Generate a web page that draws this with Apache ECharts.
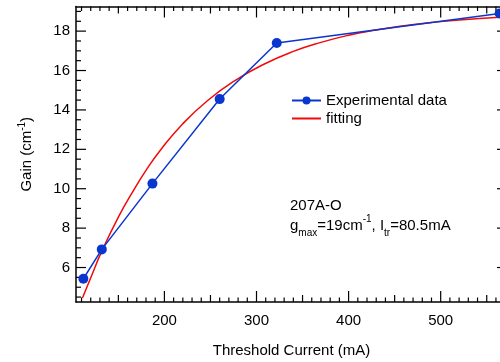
<!DOCTYPE html>
<html>
<head>
<meta charset="utf-8">
<script src="https://cdn.jsdelivr.net/npm/echarts@6/dist/echarts.min.js"></script>
<style>
  html, body { margin: 0; padding: 0; background: #fff; }
  #chart { width: 500px; height: 362px; }
</style>
</head>
<body>
<div id="chart"></div>
<script>
// measured data (threshold current mA, gain cm^-1)
const expCurrent = [112, 132, 187, 260, 322, 564];
const expGain = [5.43, 6.92, 10.26, 14.55, 17.4, 18.9];

// fitting curve
const fitCurrent = [111, 120, 132, 150, 165, 180, 196, 220, 247, 277, 308, 340, 370, 400, 430, 456, 490, 520, 572];
const fitGain = [4.45, 5.48, 6.83, 8.56, 9.8, 10.93, 11.98, 13.3, 14.48, 15.5, 16.32, 16.97, 17.43, 17.79, 18.06, 18.25, 18.44, 18.57, 18.73];

// ticks
const xMajor = [200, 300, 400, 500];
const xMid = [150, 250, 350, 450, 550];
const xMinor = [110, 120, 130, 140, 160, 170, 180, 190, 210, 220, 230, 240, 260, 270, 280, 290,
  310, 320, 330, 340, 360, 370, 380, 390, 410, 420, 430, 440, 460, 470, 480, 490, 510, 520, 530, 540, 560, 570];
const yMajor = [6, 8, 10, 12, 14, 16, 18];
const yMinor = [4.5, 5, 5.5, 6.5, 7, 7.5, 8.5, 9, 9.5, 10.5, 11, 11.5, 12.5, 13, 13.5, 14.5, 15, 15.5,
  16.5, 17, 17.5, 18.5, 19];

const xMin = 104, xMax = 572;
const yMin = 4.25, yMax = 19.25;

const font = 'Liberation Sans, Arial, sans-serif';
const blue = '#0a36d0';
const red = '#f00a0a';
const axisLine = { show: true, onZero: false, lineStyle: { color: '#000', width: 1.5 } };

// inward tick marks on both opposite sides, placed with the axis scales
function tickSeries(values, dim, len) {
  return {
    type: 'custom', silent: true, z: 1, clip: false,
    data: values.map(v => dim === 'x' ? [v, yMin] : [xMin, v]),
    renderItem: (params, api) => {
      let a, b, d;
      if (dim === 'x') {
        a = api.coord([api.value(0), yMin]);
        b = api.coord([api.value(0), yMax]);
        d = [0, -len, 0, len];
      } else {
        a = api.coord([xMin, api.value(1)]);
        b = api.coord([xMax, api.value(1)]);
        d = [len, 0, -len, 0];
      }
      const st = { stroke: '#000', lineWidth: 1.2 };
      return {
        type: 'group', children: [
          { type: 'line', shape: { x1: a[0], y1: a[1], x2: a[0] + d[0], y2: a[1] + d[1] }, style: st },
          { type: 'line', shape: { x1: b[0], y1: b[1], x2: b[0] + d[2], y2: b[1] + d[3] }, style: st }
        ]
      };
    }
  };
}

const chart = echarts.init(document.getElementById('chart'), null, { renderer: 'canvas' });
chart.setOption({
  animation: false,
  backgroundColor: '#fff',
  textStyle: { fontFamily: font },
  grid: { left: 76, right: -7, top: 6.5, bottom: 60, containLabel: false, outerBoundsMode: 'none' },
  xAxis: [
    {
      type: 'value', position: 'bottom', min: xMin, max: xMax,
      axisLine, axisTick: { show: false }, splitLine: { show: false },
      axisLabel: { customValues: xMajor, margin: 11, color: '#000', fontSize: 15, fontFamily: font },
      name: 'Threshold Current (mA)', nameLocation: 'middle', nameGap: 41,
      nameTextStyle: { color: '#000', fontSize: 15, fontFamily: font }
    },
    {
      type: 'value', position: 'top', min: xMin, max: xMax,
      axisLine, axisTick: { show: false }, splitLine: { show: false }, axisLabel: { show: false }
    }
  ],
  yAxis: [
    {
      type: 'value', position: 'left', min: yMin, max: yMax,
      axisLine, axisTick: { show: false }, splitLine: { show: false },
      axisLabel: { customValues: yMajor, margin: 6, color: '#000', fontSize: 15, fontFamily: font },
      name: '{a|Gain (cm}{s|-1}{a|)}', nameLocation: 'middle', nameGap: 39,
      nameTextStyle: {
        color: '#000', fontFamily: font,
        rich: {
          a: { fontSize: 15, fontFamily: font, color: '#000', lineHeight: 20 },
          s: { fontSize: 10, fontFamily: font, color: '#000', lineHeight: 12, verticalAlign: 'top' }
        }
      }
    },
    {
      type: 'value', position: 'right', min: yMin, max: yMax,
      axisLine, axisTick: { show: false }, splitLine: { show: false }, axisLabel: { show: false }
    }
  ],
  legend: {
    orient: 'vertical', left: 291, top: 93, itemGap: 3, padding: 0,
    itemWidth: 29, itemHeight: 10,
    textStyle: { color: '#000', fontSize: 15, fontFamily: font },
    data: ['Experimental data', { name: 'fitting', itemStyle: { opacity: 0 } }]
  },
  graphic: [
    {
      type: 'text', left: 290, top: 198,
      style: { text: '207A-O', fill: '#000', font: '15px ' + font }
    },
    {
      type: 'text', left: 290, top: 214,
      style: {
        text: '{a|g}{b|max}{a|=19cm}{c|-1}{a|, I}{b|tr}{a|=80.5mA}',
        fill: '#000',
        rich: {
          a: { fontSize: 15, fontFamily: font, fill: '#000', lineHeight: 24 },
          b: { fontSize: 10, fontFamily: font, fill: '#000', lineHeight: 12, verticalAlign: 'bottom' },
          c: { fontSize: 10, fontFamily: font, fill: '#000', lineHeight: 12, verticalAlign: 'top' }
        }
      }
    }
  ],
  series: [
    tickSeries(xMajor, 'x', 11),
    tickSeries(xMid, 'x', 7),
    tickSeries(xMinor, 'x', 4.5),
    tickSeries(yMajor, 'y', 10),
    tickSeries(yMinor, 'y', 5),
    {
      name: 'Experimental data',
      type: 'line',
      data: expCurrent.map((x, i) => [x, expGain[i]]),
      symbol: 'circle', symbolSize: 10,
      lineStyle: { color: blue, width: 1.5 },
      itemStyle: { color: blue },
      z: 3
    },
    {
      name: 'fitting',
      type: 'line',
      data: fitCurrent.map((x, i) => [x, fitGain[i]]),
      smooth: 0.5, symbol: 'none',
      lineStyle: { color: red, width: 1.5 },
      itemStyle: { color: red },
      z: 2
    }
  ]
});
</script>
</body>
</html>
